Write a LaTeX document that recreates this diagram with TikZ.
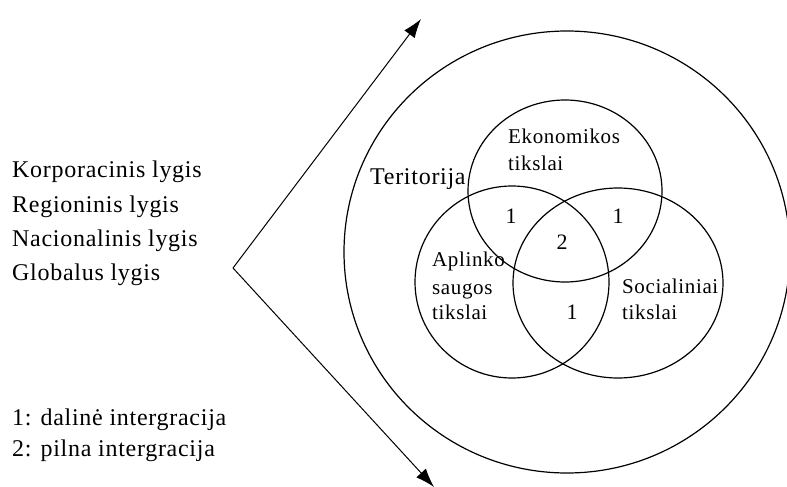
\documentclass[tikz,border=0pt]{standalone}
\usepackage{fontspec}
\setmainfont{Liberation Serif}[LetterSpace=3]
\usetikzlibrary{arrows.meta}
\tikzset{
  ring/.style={draw=black, line width=1.2pt},
  lbl/.style={anchor=base west, inner sep=0pt, font=\fontsize{24}{28}\selectfont},
  inlbl/.style={anchor=base west, inner sep=0pt, font=\fontsize{21}{25}\selectfont},
  num/.style={anchor=center, inner sep=0pt, font=\fontsize{22}{26}\selectfont},
  pointer/.style={draw=black, line width=1pt, -{Latex[length=19pt,width=13pt]}}
}
\begin{document}
\begin{tikzpicture}[x=1pt,y=-1pt]
\useasboundingbox (0,0) rectangle (787,487);
% circles
\draw[ring] (567,252) ellipse [x radius=223, y radius=221];
\draw[ring] (565,191) ellipse [x radius=97, y radius=91];
\draw[ring] (512,282) ellipse [x radius=97, y radius=96];
\draw[ring] (618,283) ellipse [x radius=105, y radius=95];
% arrows
\coordinate (v) at (233,268);
\coordinate (t1) at (421,19);
\coordinate (t2) at (434,487);
\draw[pointer] (v) -- (t1);
\draw[pointer] (v) -- (t2);
% left texts
\node[lbl] (l1) at (12,177) {Korporacinis lygis};
\node[lbl] (l2) at (12,212) {Regioninis lygis};
\node[lbl] (l3) at (12,246) {Nacionalinis lygis};
\node[lbl] (l4) at (12,280) {Globalus lygis};
\node[lbl] (k1) at (12,425) {1: dalinė intergracija};
\node[lbl] (k2) at (12,456) {2: pilna intergracija};
% inner texts
\node[lbl] (ter) at (370,184) {Teritorija};
\node[inlbl] (eko1) at (508,143) {Ekonomikos};
\node[inlbl] (eko2) at (508,170) {tikslai};
\node[inlbl] (apl1) at (432,266) {Aplinko};
\node[inlbl] (apl2) at (432,294) {saugos};
\node[inlbl] (apl3) at (432,319) {tikslai};
\node[inlbl] (soc1) at (622,293) {Socialiniai};
\node[inlbl] (soc2) at (622,319) {tikslai};
\node[num] (n1) at (511,216) {1};
\node[num] (n2) at (618,216) {1};
\node[num] (n3) at (562,242) {2};
\node[num] (n4) at (572,312) {1};
\end{tikzpicture}
\end{document}
